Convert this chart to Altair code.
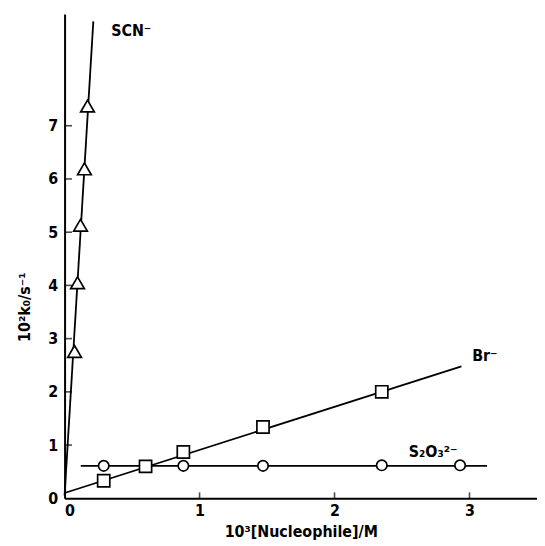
import altair as alt
import pandas as pd

# data
scn_x = [0.074, 0.096, 0.118, 0.147, 0.170]
scn_y = [2.76, 4.05, 5.13, 6.19, 7.37]
br_x = [0.29, 0.60, 0.88, 1.47, 2.35]
br_y = [0.33, 0.60, 0.87, 1.34, 2.00]
s2o3_x = [0.29, 0.88, 1.47, 2.35, 2.93]
s2o3_y = [0.61, 0.61, 0.61, 0.62, 0.62]

# fitted lines (end points)
scn_line_x = [0.0, 0.213]
scn_line_y = [0.05, 8.96]
br_line_x = [0.0, 2.94]
br_line_y = [0.10, 2.48]
s2o3_line_x = [0.12, 3.13]
s2o3_line_y = [0.61, 0.61]

label_text = ["SCN\u207b", "Br\u207b", "S\u2082O\u2083\u00b2\u207b"]
label_x = [0.345, 3.02, 2.55]
label_y = [8.77, 2.67, 0.86]

x_ticks = [1, 2, 3]
y_ticks = [1, 2, 3, 4, 5, 6, 7]

FONT = "DejaVu Sans Condensed"
FS = 16
FW = "bold"
X_DOM = [0, 3.5]
Y_DOM = [0, 9.1]

xs = alt.Scale(domain=X_DOM, nice=False, zero=False)
ys = alt.Scale(domain=Y_DOM, nice=False, zero=False)

pts = pd.DataFrame({
    "x": scn_x + br_x + s2o3_x,
    "y": scn_y + br_y + s2o3_y,
    "s": ["SCN"] * 5 + ["Br"] * 5 + ["S2O3"] * 5,
})
lines = pd.DataFrame({
    "x": scn_line_x + br_line_x + s2o3_line_x,
    "y": scn_line_y + br_line_y + s2o3_line_y,
    "s": ["SCN"] * 2 + ["Br"] * 2 + ["S2O3"] * 2,
})
labels = pd.DataFrame({"t": label_text, "x": label_x, "y": label_y})

xaxis = alt.Axis(values=[0, 1, 2, 3], format="d", grid=False, ticks=False,
                 domainColor="black", domainWidth=2, labelFont=FONT, labelFontSize=FS,
                 labelFontWeight=FW, labelColor="black", labelPadding=4,
                 title="10\u00b3[Nucleophile]/M", titleFont=FONT, titleFontSize=FS,
                 titleFontWeight=FW, titleColor="black", titlePadding=5)
yaxis = alt.Axis(values=[0, 1, 2, 3, 4, 5, 6, 7], format="d", grid=False, ticks=False,
                 domainColor="black", domainWidth=2, labelFont=FONT, labelFontSize=FS,
                 labelFontWeight=FW, labelColor="black", labelPadding=7,
                 title="10\u00b2k\u2080/s\u207b\u00b9", titleFont=FONT, titleFontSize=FS,
                 titleFontWeight=FW, titleColor="black",
                 titleX=-32, titleY=295)

line_layer = alt.Chart(lines).mark_line(color="black", strokeWidth=1.8).encode(
    x=alt.X("x:Q", scale=xs, axis=xaxis),
    y=alt.Y("y:Q", scale=ys, axis=yaxis),
    detail="s:N",
)

shape_scale = alt.Scale(domain=["SCN", "Br", "S2O3"],
                        range=["triangle-up", "square", "circle"])
size_scale = alt.Scale(domain=["SCN", "Br", "S2O3"], range=[190, 110, 110])
pt_layer = alt.Chart(pts).mark_point(filled=True, fill="white", stroke="black",
                                     strokeWidth=1.7, opacity=1).encode(
    x=alt.X("x:Q", scale=xs),
    y=alt.Y("y:Q", scale=ys),
    shape=alt.Shape("s:N", scale=shape_scale, legend=None),
    size=alt.Size("s:N", scale=size_scale, legend=None),
)

ytick_df = pd.DataFrame({"y": y_ticks, "x": [0] * len(y_ticks)})
ytick_layer = alt.Chart(ytick_df).mark_tick(orient="horizontal", size=7, thickness=1.6,
                                           color="black", xOffset=4).encode(
    x=alt.X("x:Q", scale=xs), y=alt.Y("y:Q", scale=ys))

xtick_df = pd.DataFrame({"x": x_ticks, "y": [0] * len(x_ticks)})
xtick_layer = alt.Chart(xtick_df).mark_tick(orient="vertical", size=6, thickness=1.6,
                                           color="black", yOffset=-3).encode(
    x=alt.X("x:Q", scale=xs), y=alt.Y("y:Q", scale=ys))

text_layer = alt.Chart(labels).mark_text(align="left", baseline="middle", font=FONT,
                                         fontSize=FS, fontWeight=FW, color="black").encode(
    x=alt.X("x:Q", scale=xs), y=alt.Y("y:Q", scale=ys), text="t:N")

chart = alt.layer(line_layer, pt_layer, ytick_layer, xtick_layer, text_layer).properties(
    width=476, height=488,
    autosize=alt.AutoSizeParams(type="none"),
    padding={"left": 57, "top": 4, "right": 0, "bottom": 40},
    background="white",
).configure_view(stroke=None)

chart.save("out.html", embed_options={"renderer": "svg", "actions": False})
